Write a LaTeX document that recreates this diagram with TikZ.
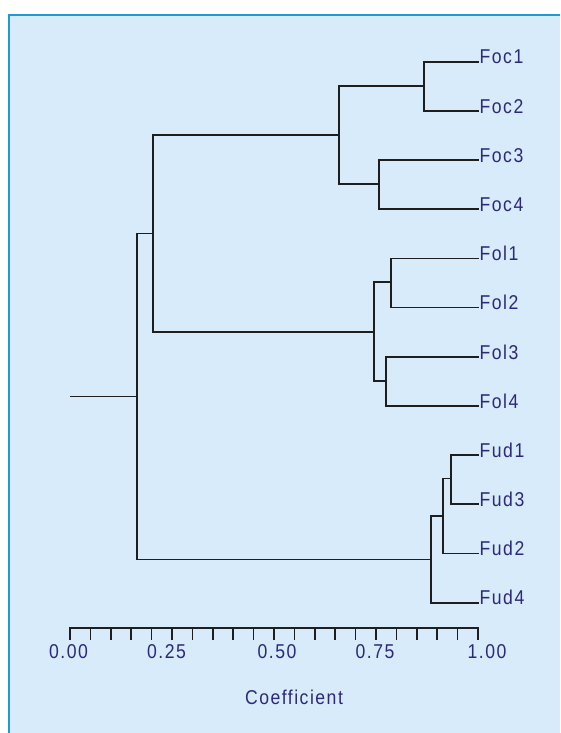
\documentclass[tikz,border=0pt]{standalone}
\usepackage{fontspec}
\setmainfont[FakeStretch=0.88, LetterSpace=7.5]{Liberation Sans}
\usetikzlibrary{calc}

\definecolor{panel}{RGB}{215,235,250}
\definecolor{frame}{RGB}{30,155,215}
\definecolor{ink}{RGB}{45,40,122}
\definecolor{branch}{RGB}{30,30,30}

\tikzset{
  link/.style={draw=branch, line width=1.7pt, line cap=rect},
  leafname/.style={text=ink, font=\fontsize{20}{22}\selectfont, inner sep=0pt, anchor=base west},
  ticklabel/.style={text=ink, font=\fontsize{20}{22}\selectfont, inner sep=0pt},
}

\begin{document}
\begin{tikzpicture}[x=1pt, y=-1pt]
  % page and panel (the panel runs past the right and bottom edges)
  \useasboundingbox (0,0) rectangle (560,733);
  \fill[white] (0,0) rectangle (560,733);
  \fill[panel] (9,15) rectangle (560,733);
  \draw[frame, line width=2pt] (9,733) -- (9,15) -- (560,15);

  % leaf ends and their names
  \foreach \n [count=\i from 0] in {Foc1,Foc2,Foc3,Foc4,Fol1,Fol2,Fol3,Fol4,Fud1,Fud3,Fud2,Fud4} {
    \coordinate (\n) at (478, {61.7+49.18*\i});
    \node[leafname] (t\n) at ($(\n)+(1.5,2.3)$) {\n};
  }

  % join points (x = 70 + 408 * coefficient)
  \coordinate (a) at (424.3, 86.3);
  \coordinate (b) at (379.0, 184.2);
  \coordinate (c) at (338.7, 135.3);
  \coordinate (d) at (390.7, 282.3);
  \coordinate (e) at (386.0, 381.2);
  \coordinate (f) at (373.7, 331.8);
  \coordinate (g) at (153.0, 233.5);
  \coordinate (h) at (450.7, 478.5);
  \coordinate (i) at (442.7, 516.3);
  \coordinate (j) at (431.0, 559.5);
  \coordinate (k) at (137.0, 396.5);
  \coordinate (root) at (70.7, 396.5);

  % branches
  \draw[link] (a) |- (Foc1);  \draw[link] (a) |- (Foc2);
  \draw[link] (b) |- (Foc3);  \draw[link] (b) |- (Foc4);
  \draw[link] (c) |- (a);     \draw[link] (c) |- (b);
  \draw[link] (d) |- (Fol1);  \draw[link] (d) |- (Fol2);
  \draw[link] (e) |- (Fol3);  \draw[link] (e) |- (Fol4);
  \draw[link] (f) |- (d);     \draw[link] (f) |- (e);
  \draw[link] (g) |- (c);     \draw[link] (g) |- (f);
  \draw[link] (h) |- (Fud1);  \draw[link] (h) |- (Fud3);
  \draw[link] (i) |- (h);     \draw[link] (i) |- (Fud2);
  \draw[link] (j) |- (i);     \draw[link] (j) |- (Fud4);
  \draw[link] (k) |- (g);     \draw[link] (k) |- (j);
  \draw[link] (root) -- (k);

  % coefficient axis
  \coordinate (ax0) at (70, 627.7);
  \coordinate (ax1) at (478, 627.7);
  \draw[link] (ax0) -- (ax1);
  \foreach \t in {0,...,20} {
    \draw[link] ($(ax0)+(20.4*\t,0)$) -- ++(0, 11.6);
  }
  \node[ticklabel] (l000) at (68.5, 651.7) {0.00};
  \node[ticklabel] (l025) at (166.5, 651.7) {0.25};
  \node[ticklabel] (l050) at (277, 651.7) {0.50};
  \node[ticklabel] (l075) at (375, 651.7) {0.75};
  \node[ticklabel] (l100) at (487, 651.7) {1.00};
  \node[ticklabel] (title) at (294, 697.5) {Coefficient};
\end{tikzpicture}
\end{document}
